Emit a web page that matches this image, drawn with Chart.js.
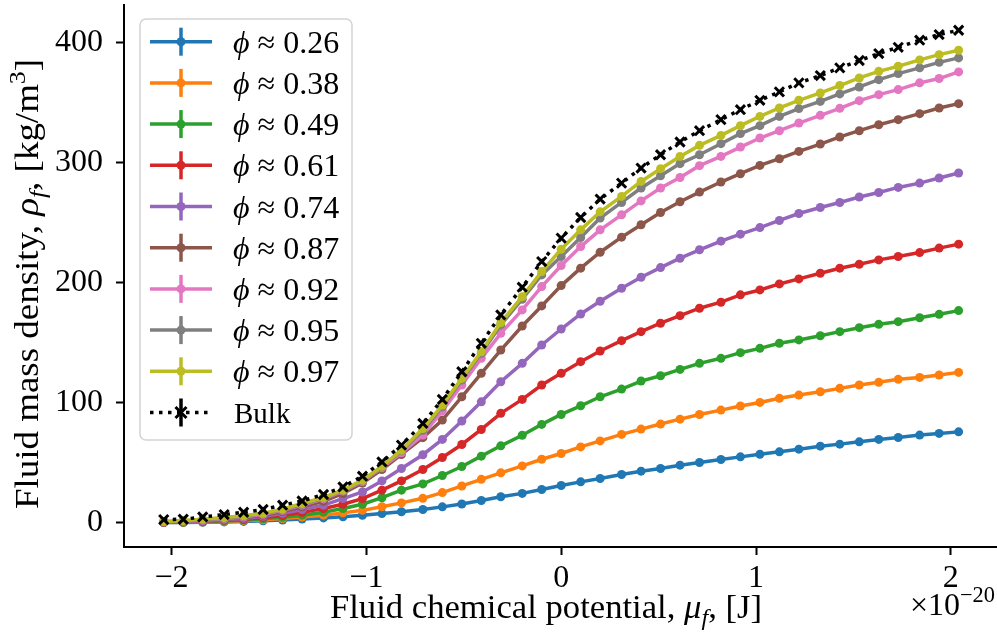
<!DOCTYPE html>
<html>
<head>
<meta charset="utf-8">
<script src="https://cdn.jsdelivr.net/npm/chart.js@4.4.1/dist/chart.umd.min.js"></script>
<style>
  html, body { margin: 0; padding: 0; background: #fff; overflow: hidden; }
  #wrap { width: 997px; height: 641px; }
</style>
</head>
<body>
<div id="wrap"><canvas id="densityChart" width="997" height="641"></canvas></div>
<script>
// chemical potential (x 1e-20 J)
var muValues = [-2.04, -1.94, -1.84, -1.73, -1.63, -1.53, -1.43, -1.33, -1.22, -1.12,
                -1.02, -0.92, -0.82, -0.71, -0.61, -0.51, -0.41, -0.31, -0.20, -0.10,
                 0.00,  0.10,  0.20,  0.31,  0.41,  0.51,  0.61,  0.71,  0.82,  0.92,
                 1.02,  1.12,  1.22,  1.33,  1.43,  1.53,  1.63,  1.73,  1.84,  1.94, 2.04];

// fluid mass density, kg/m^3, one array per porosity
var rho026 = [0.3, 0.4, 0.6, 0.9, 1.3, 1.8, 2.5, 3.3, 4.2, 5.2, 6.4, 7.8, 9.3, 11.2, 13.4, 15.8, 18.7, 21.8, 24.6, 27.8,
              31.2, 34.2, 37.0, 40.3, 43.1, 45.3, 48.1, 50.3, 52.8, 55.0, 57.2, 59.2, 61.4, 63.9, 65.6, 67.5, 69.5, 71.1, 73.1, 74.5, 75.8];
var rho038 = [0.4, 0.6, 0.9, 1.3, 1.9, 2.7, 3.7, 5.0, 6.5, 8.4, 10.5, 13.5, 16.7, 20.5, 25.3, 30.8, 36.3, 41.7, 47.5, 53.0,
              57.8, 63.3, 68.3, 73.7, 78.1, 82.3, 86.4, 90.3, 93.9, 97.3, 100.3, 103.7, 106.4, 109.2, 112.0, 114.8, 117.0, 119.5, 121.1, 123.1, 125.3];
var rho049 = [0.5, 0.8, 1.2, 1.7, 2.5, 3.5, 4.8, 6.5, 9.0, 12.0, 15.6, 21.0, 27.3, 32.5, 39.5, 47.0, 55.6, 64.2, 73.0, 82.0,
              90.3, 97.5, 105.0, 111.4, 118.1, 122.5, 127.8, 132.8, 137.0, 141.7, 145.3, 149.5, 152.3, 155.8, 159.2, 162.5, 165.3, 167.5, 170.8, 173.6, 176.7];
var rho061 = [0.6, 1.0, 1.5, 2.2, 3.1, 4.4, 6.2, 8.8, 12.0, 15.6, 20.3, 27.3, 35.0, 44.5, 54.5, 65.3, 77.8, 91.2, 102.8, 114.8,
              124.5, 134.2, 143.1, 151.7, 159.2, 166.2, 172.5, 178.7, 183.7, 189.8, 193.9, 198.9, 203.1, 207.8, 212.0, 215.3, 218.9, 221.7, 225.0, 228.7, 232.0];
var rho074 = [0.7, 1.1, 1.7, 2.6, 3.8, 5.5, 8.0, 11.2, 14.8, 20.3, 25.8, 35.0, 45.3, 56.8, 69.5, 84.8, 100.8, 117.5, 132.8, 148.1,
              161.4, 173.9, 184.5, 195.3, 204.5, 212.5, 220.3, 227.3, 234.5, 240.3, 245.8, 251.7, 257.5, 262.5, 266.7, 271.2, 275.0, 279.2, 282.8, 287.0, 291.2];
var rho087 = [0.9, 1.3, 2.0, 3.0, 4.5, 6.5, 9.5, 13.5, 18.0, 24.5, 33.3, 44.5, 57.0, 71.0, 85.6, 105.0, 124.5, 143.9, 163.9, 180.6,
              197.5, 212.0, 225.3, 237.8, 248.1, 258.3, 267.3, 275.3, 283.7, 290.6, 297.5, 303.1, 309.2, 315.3, 321.2, 326.4, 331.4, 335.6, 340.6, 345.3, 348.9];
var rho092 = [1.0, 1.5, 2.3, 3.4, 5.0, 7.2, 10.5, 14.8, 20.0, 26.5, 34.5, 46.0, 58.4, 73.1, 93.3, 114.8, 137.0, 157.8, 177.3, 196.7,
              214.2, 230.0, 243.9, 256.4, 268.0, 278.7, 287.5, 297.3, 305.0, 312.8, 320.3, 326.4, 332.8, 339.2, 345.0, 351.4, 356.4, 360.6, 366.2, 369.8, 375.3];
var rho095 = [1.1, 1.7, 2.6, 3.9, 5.6, 7.8, 11.2, 15.6, 20.8, 27.0, 35.2, 46.8, 60.0, 77.0, 96.7, 118.9, 141.2, 164.8, 186.2, 206.4,
              221.7, 237.5, 253.7, 266.7, 278.7, 288.9, 299.0, 306.4, 315.6, 324.0, 330.6, 338.3, 344.8, 350.8, 357.0, 362.8, 368.9, 373.9, 378.7, 383.3, 387.0];
var rho097 = [1.3, 2.0, 3.0, 4.5, 6.0, 8.0, 11.5, 16.2, 21.2, 27.3, 35.6, 47.2, 60.6, 78.6, 98.1, 120.3, 142.5, 166.7, 188.3, 209.2,
              227.8, 243.9, 258.9, 271.7, 284.2, 294.8, 305.0, 314.2, 322.5, 330.6, 338.3, 345.3, 351.7, 357.8, 364.0, 370.3, 375.8, 380.0, 385.3, 389.7, 393.3];
var rhoBulk = [2.8, 3.1, 5.0, 7.0, 8.9, 11.2, 14.8, 18.3, 23.7, 30.0, 38.9, 50.8, 64.8, 82.8, 102.8, 125.8, 149.5, 173.1, 196.2, 217.5,
               237.0, 254.2, 269.5, 282.8, 295.3, 306.4, 317.0, 326.4, 335.6, 343.9, 351.7, 358.7, 366.2, 372.3, 378.7, 384.8, 390.6, 395.8, 401.7, 406.4, 410.0];

var phiLabels = ['0.26', '0.38', '0.49', '0.61', '0.74', '0.87', '0.92', '0.95', '0.97'];
var bulkLabel = 'Bulk';
var xTicks = [-2, -1, 0, 1, 2];
var yTicks = [0, 100, 200, 300, 400];

var seriesData = [rho026, rho038, rho049, rho061, rho074, rho087, rho092, rho095, rho097];
var colors = ['#1f77b4', '#ff7f0e', '#2ca02c', '#d62728', '#9467bd', '#8c564b', '#e377c2', '#7f7f7f', '#bcbd22'];

var FONT = '"Liberation Serif", "DejaVu Serif", serif';
var LW = 3.5;

function toPoints(ys) {
    return muValues.map(function (x, i) { return { x: x, y: ys[i] }; });
}

var datasets = seriesData.map(function (ys, i) {
    return {
        label: phiLabels[i],
        data: toPoints(ys),
        borderColor: colors[i],
        backgroundColor: colors[i],
        pointBackgroundColor: colors[i],
        pointBorderWidth: 0,
        pointRadius: 4.5,
        borderWidth: LW,
        order: 20 - i
    };
});
datasets.push({
    label: bulkLabel,
    data: toPoints(rhoBulk),
    borderColor: '#000',
    backgroundColor: '#000',
    borderWidth: LW,
    borderDash: [3.5, 5.5],
    borderCapStyle: 'butt',
    pointStyle: 'crossRot',
    pointRadius: 6.5,
    pointBorderWidth: 3,
    pointBorderColor: '#000',
    order: 0
});

// draws text runs with italic / sub / superscript parts, sx stretches along the text
function richWidth(ctx, parts, size) {
    var w = 0;
    parts.forEach(function (p) {
        var s = (p.sub || p.sup) ? size * 0.7 : size;
        ctx.font = (p.it ? 'italic ' : '') + s + 'px ' + FONT;
        w += ctx.measureText(p.t).width;
    });
    return w;
}
function drawRich(ctx, parts, x, y, size, align, sx) {
    sx = sx || 1;
    var total = richWidth(ctx, parts, size);
    var cx = align === 'center' ? -total / 2 : (align === 'right' ? -total : 0);
    ctx.save();
    ctx.translate(x, y);
    ctx.scale(sx, 1);
    ctx.textAlign = 'left';
    ctx.textBaseline = 'alphabetic';
    parts.forEach(function (p) {
        var s = (p.sub || p.sup) ? size * 0.7 : size;
        ctx.font = (p.it ? 'italic ' : '') + s + 'px ' + FONT;
        var dy = p.sub ? size * 0.2 : (p.sup ? -size * 0.4 : 0);
        ctx.fillText(p.t, cx, dy);
        cx += ctx.measureText(p.t).width;
    });
    ctx.restore();
}

var decorations = {
    id: 'decorations',
    afterDraw: function (chart) {
        var ctx = chart.ctx;
        ctx.save();
        ctx.fillStyle = '#000';

        // x axis title
        drawRich(ctx, [
            { t: 'Fluid chemical potential, ' }, { t: 'μ', it: true }, { t: 'f', it: true, sub: true }, { t: ', [J]' }
        ], 546, 618, 33, 'center', 1.05);

        // offset text
        drawRich(ctx, [{ t: '×10' }, { t: '−20', sup: true }], 995, 615, 32, 'right');

        // y axis title
        ctx.save();
        ctx.translate(38, 284);
        ctx.rotate(-Math.PI / 2);
        drawRich(ctx, [
            { t: 'Fluid mass density, ' }, { t: 'ρ', it: true }, { t: 'f', it: true, sub: true },
            { t: ', [kg/m' }, { t: '3', sup: true }, { t: ']' }
        ], 0, 0, 33, 'center', 1.12);
        ctx.restore();

        // legend
        var bx = 140, by = 19, bw = 212, bh = 421, r = 6;
        ctx.beginPath();
        ctx.moveTo(bx + r, by);
        ctx.arcTo(bx + bw, by, bx + bw, by + bh, r);
        ctx.arcTo(bx + bw, by + bh, bx, by + bh, r);
        ctx.arcTo(bx, by + bh, bx, by, r);
        ctx.arcTo(bx, by, bx + bw, by, r);
        ctx.closePath();
        ctx.fillStyle = 'rgba(255,255,255,0.8)';
        ctx.fill();
        ctx.strokeStyle = '#d3d3d3';
        ctx.lineWidth = 1.5;
        ctx.stroke();

        var rowH = 41.2, y0 = 41.7, lx0 = 150, lx1 = 212, mx = 181;
        chart.data.datasets.forEach(function (ds, i) {
            var cy = y0 + i * rowH;
            var c = ds.borderColor;
            ctx.strokeStyle = c;
            ctx.lineWidth = LW;
            ctx.setLineDash(ds.borderDash || []);
            ctx.lineCap = 'butt';
            ctx.beginPath();
            ctx.moveTo(lx0, cy);
            ctx.lineTo(lx1, cy);
            ctx.stroke();
            ctx.setLineDash([]);
            ctx.beginPath();
            ctx.moveTo(mx, cy - 14);
            ctx.lineTo(mx, cy + 14);
            ctx.stroke();
            if (ds.pointStyle === 'crossRot') {
                ctx.lineWidth = 3;
                ctx.beginPath();
                ctx.moveTo(mx - 5.5, cy - 5.5); ctx.lineTo(mx + 5.5, cy + 5.5);
                ctx.moveTo(mx + 5.5, cy - 5.5); ctx.lineTo(mx - 5.5, cy + 5.5);
                ctx.stroke();
            } else {
                ctx.fillStyle = c;
                ctx.beginPath();
                ctx.arc(mx, cy, 4.5, 0, Math.PI * 2);
                ctx.fill();
            }
            ctx.fillStyle = '#000';
            if (ds.pointStyle === 'crossRot') {
                drawRich(ctx, [{ t: ds.label }], 234, cy + 10.5, 29, 'left');
            } else {
                drawRich(ctx, [{ t: 'ϕ', it: true }, { t: ' ≈ ' + ds.label }], 233, cy + 11, 32, 'left');
            }
        });
        ctx.restore();
    }
};

var tickFont = { family: FONT, size: 32 };

new Chart(document.getElementById('densityChart').getContext('2d'), {
    type: 'line',
    data: { datasets: datasets },
    options: {
        responsive: false,
        animation: false,
        layout: { autoPadding: false, padding: { top: 5, right: 0, bottom: 0, left: 0 } },
        plugins: { legend: { display: false }, tooltip: { enabled: false } },
        scales: {
            x: {
                type: 'linear',
                min: -2.244,
                max: 2.237,
                afterBuildTicks: function (s) { s.ticks = xTicks.map(function (v) { return { value: v }; }); },
                afterFit: function (s) { s.height = 94; s.paddingLeft = 0; s.paddingRight = 0; },
                ticks: {
                    font: tickFont, color: '#000', padding: 4, maxRotation: 0, autoSkip: false,
                    callback: function (v) { return v < 0 ? '−' + Math.abs(v) : String(v); }
                },
                grid: { display: true, drawOnChartArea: false, drawTicks: true, tickLength: 8, tickWidth: 2, color: '#000' },
                border: { display: true, color: '#000', width: 2 }
            },
            y: {
                type: 'linear',
                min: -20,
                max: 431,
                afterBuildTicks: function (s) { s.ticks = yTicks.map(function (v) { return { value: v }; }); },
                afterFit: function (s) { s.width = 124; s.paddingTop = 0; s.paddingBottom = 0; },
                ticks: { font: tickFont, color: '#000', padding: 13 },
                grid: { display: true, drawOnChartArea: false, drawTicks: true, tickLength: 8, tickWidth: 2, color: '#000' },
                border: { display: true, color: '#000', width: 2 }
            }
        }
    },
    plugins: [decorations]
});
</script>
</body>
</html>
